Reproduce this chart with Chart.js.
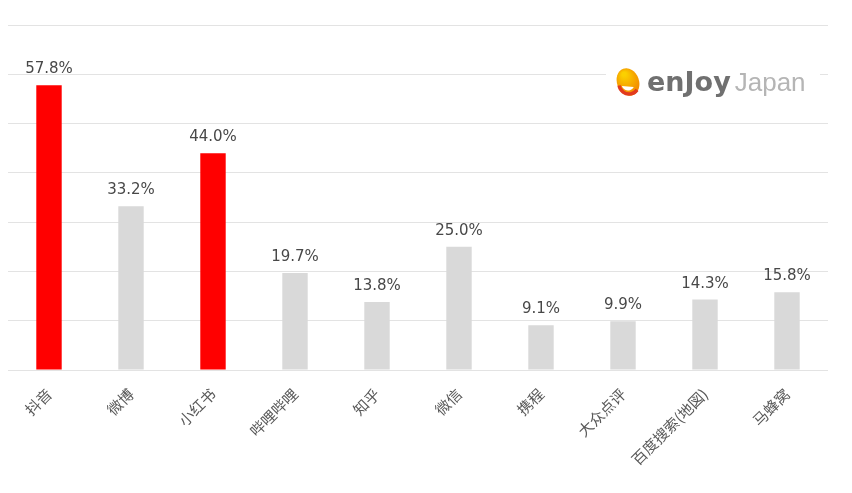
<!DOCTYPE html>
<html>
<head>
<meta charset="utf-8">
<script src="https://cdn.jsdelivr.net/npm/chart.js"></script>
<style>
  body { margin: 0; background: #fff; }
  #wrap { width: 852px; height: 493px; position: relative; }
</style>
</head>
<body>
<div id="wrap"><canvas id="platformChart"></canvas></div>
<script>
const categories = ['抖音', '微博', '小红书', '哔哩哔哩', '知乎', '微信', '携程', '大众点评', '百度搜索(地図)', '马蜂窝'];
const shares = [57.8, 33.2, 44.0, 19.7, 13.8, 25.0, 9.1, 9.9, 14.3, 15.8];
const highlighted = ['抖音', '小红书'];

const barColors = categories.map(c => highlighted.includes(c) ? '#FF0000' : '#D9D9D9');

// value labels above each bar
const valueLabels = {
  id: 'valueLabels',
  afterDatasetsDraw(chart) {
    const ctx = chart.ctx;
    const meta = chart.getDatasetMeta(0);
    ctx.save();
    ctx.font = '15px "DejaVu Sans", sans-serif';
    ctx.fillStyle = '#484848';
    ctx.textAlign = 'center';
    ctx.textBaseline = 'alphabetic';
    meta.data.forEach((bar, i) => {
      ctx.fillText(shares[i].toFixed(1) + '%', bar.x, bar.y - 12);
    });
    ctx.restore();
  }
};

// enJoy Japan logo in the top right
const logo = {
  id: 'logo',
  afterDraw(chart) {
    const ctx = chart.ctx;
    ctx.save();
    ctx.fillStyle = '#fff';
    ctx.fillRect(606, 60, 214, 44);
    // icon
    const g = ctx.createRadialGradient(624, 74, 2, 628, 82, 17);
    g.addColorStop(0, '#FBD000');
    g.addColorStop(1, '#F07800');
    ctx.fillStyle = g;
    ctx.beginPath();
    ctx.ellipse(628, 82, 11, 14, -0.35, 0, Math.PI * 2);
    ctx.fill();
    ctx.strokeStyle = '#E23A1E';
    ctx.lineWidth = 3.5;
    ctx.beginPath();
    ctx.arc(629, 84, 10, 0.2 * Math.PI, 0.95 * Math.PI);
    ctx.stroke();
    ctx.fillStyle = '#fff';
    ctx.beginPath();
    ctx.arc(628, 84, 6.5, 0.15 * Math.PI, 0.9 * Math.PI);
    ctx.fill();
    // text
    ctx.textBaseline = 'alphabetic';
    ctx.font = 'bold 27px "DejaVu Sans", sans-serif';
    ctx.fillStyle = '#707070';
    ctx.fillText('enJoy', 647, 91);
    const w = ctx.measureText('enJoy').width;
    ctx.font = '26px "Liberation Sans", sans-serif';
    ctx.fillStyle = '#B5B5B5';
    ctx.fillText('Japan', 647 + w + 4, 91);
    ctx.restore();
  }
};

new Chart(document.getElementById('platformChart'), {
  type: 'bar',
  data: {
    labels: categories,
    datasets: [{
      data: shares,
      backgroundColor: barColors,
      categoryPercentage: 1,
      barPercentage: 0.31
    }]
  },
  options: {
    responsive: true,
    maintainAspectRatio: false,
    animation: false,
    layout: { padding: { left: 8, right: 24, top: 25, bottom: 0 } },
    plugins: {
      legend: { display: false },
      tooltip: { enabled: false }
    },
    scales: {
      x: {
        grid: { display: false },
        border: { display: false },
        ticks: {
          minRotation: 45,
          maxRotation: 45,
          padding: 7,
          color: '#595959',
          font: { family: '"Noto Sans CJK SC", sans-serif', size: 15 }
        },
        afterFit(scale) { scale.height = 123; }
      },
      y: {
        min: 0,
        max: 70,
        ticks: { display: false, stepSize: 10 },
        grid: { color: '#E3E3E3', lineWidth: 1, drawTicks: false },
        border: { display: false },
        afterFit(scale) { scale.width = 0; }
      }
    }
  },
  plugins: [valueLabels, logo]
});
</script>
</body>
</html>
